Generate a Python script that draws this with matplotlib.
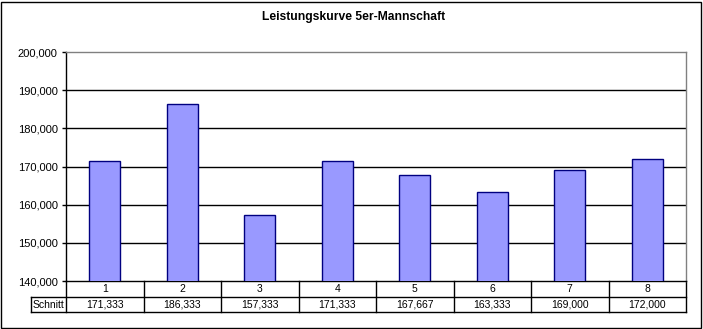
import numpy as np
import matplotlib.pyplot as plt
from matplotlib.patches import Rectangle
from matplotlib.transforms import blended_transform_factory

# Average per match, 5-player team
spiele = ['1', '2', '3', '4', '5', '6', '7', '8']
schnitt = [171.333, 186.333, 157.333, 171.333, 167.667, 163.333, 169.000, 172.000]
y_ticks = [140, 150, 160, 170, 180, 190, 200]

plt.rcParams['font.family'] = ['Liberation Sans', 'DejaVu Sans']


def fmt(v):
    return f'{v:.3f}'.replace('.', ',')


W, H = 703, 329
fig = plt.figure(figsize=(W / 100, H / 100), dpi=100)

# plot area in pixels
left, right, top, bottom = 66, 686, 52, 281
ax = fig.add_axes([left / W, 1 - bottom / H, (right - left) / W, (bottom - top) / H])

x = np.arange(len(spiele))
ax.bar(x, schnitt, width=0.4, color='#9999ff', edgecolor='#000080', linewidth=1, zorder=3)

ax.set_xlim(-0.5, len(spiele) - 0.5)
ax.set_ylim(140, 200)
ax.set_yticks(y_ticks)
ax.set_yticklabels([fmt(v) for v in y_ticks], fontsize=8, color='#000000')
ax.tick_params(axis='y', length=3, width=1, pad=3)
ax.set_xticks([])
for v in y_ticks[1:-1]:
    ax.axhline(v, color='black', linewidth=1, zorder=1)

ax.spines['top'].set_color('#808080')
ax.spines['right'].set_color('#808080')
for s in ['left', 'bottom']:
    ax.spines[s].set_color('black')
for s in ax.spines.values():
    s.set_linewidth(1)

# data table below the axis
trans = blended_transform_factory(ax.transData, ax.transAxes)
ph = bottom - top
r1 = -16 / ph
r2 = -31 / ph
x_label = (31 - left) / ((right - left) / len(spiele)) - 0.5
kw = dict(color='black', linewidth=1, transform=trans, clip_on=False)
for b in np.arange(len(spiele) + 1) - 0.5:
    ax.plot([b, b], [0, r2], **kw)
ax.plot([x_label, x_label], [r1, r2], **kw)
ax.plot([x_label, len(spiele) - 0.5], [r1, r1], **kw)
ax.plot([x_label, len(spiele) - 0.5], [r2, r2], **kw)

for xi, s, v in zip(x, spiele, schnitt):
    ax.text(xi, r1 / 2, s, ha='center', va='center', fontsize=7.5, transform=trans)
    ax.text(xi, (r1 + r2) / 2, fmt(v), ha='center', va='center', fontsize=7.5, transform=trans)
ax.text((x_label - 0.5) / 2, (r1 + r2) / 2, 'Schnitt', ha='center', va='center',
        fontsize=7.5, transform=trans)

fig.text(354 / W, 1 - 17 / H, 'Leistungskurve 5er-Mannschaft', ha='center', va='center',
         fontsize=8.7, fontweight='bold')

fig.patches.append(Rectangle((1 / W, 1 / H), (W - 3) / W, (H - 3) / H, fill=False,
                             edgecolor='black', linewidth=1, transform=fig.transFigure))

fig.savefig('out.png', dpi=100)
